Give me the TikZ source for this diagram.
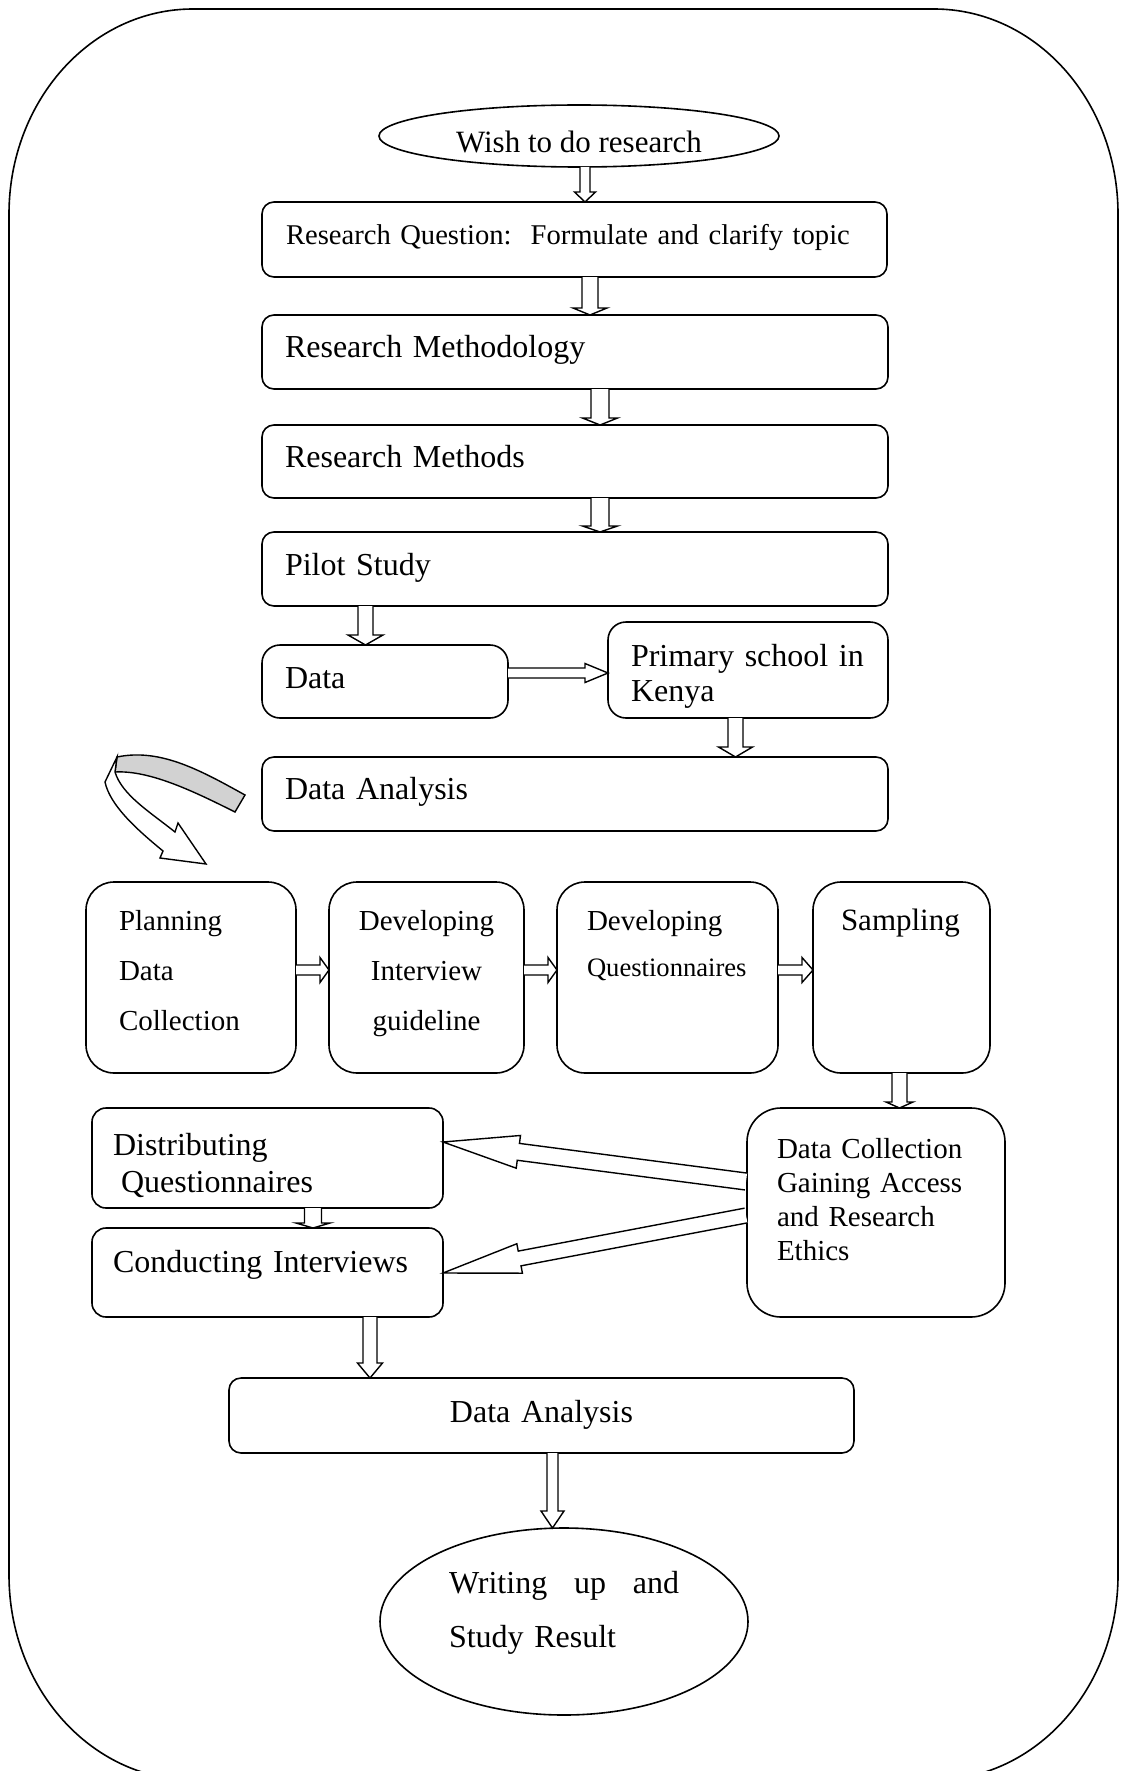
\documentclass[tikz,border=0pt]{standalone}
\usepackage{fontspec}
\setmainfont{Liberation Serif}
\usetikzlibrary{shapes.geometric,calc}
\tikzset{
block/.style={
    rectangle,
    draw,
    line width=0.8pt,
    rounded corners=6pt,
    anchor=north west,
    outer sep=0pt,
    inner xsep=11.5pt,
    inner ysep=0pt,
    align=left,
    font=\fontsize{16}{16}\selectfont
},
oval/.style={
    ellipse,
    draw,
    line width=0.8pt,
    inner sep=0pt,
    outer sep=0pt
},
stem width/.store in=\stemw,
barb width/.store in=\barbw,
barb length/.store in=\barbl,
hollow connector/.style={
    draw,
    fill=white,
    line width=0.7pt,
    line join=miter,
    stem width=2.5pt,
    barb width=6pt,
    barb length=5pt,
    to path={(\tikztostart) coordinate (tA) (\tikztotarget) coordinate (tB)
        ($(tA)!\stemw!90:(tB)$)
        -- ($(tB)!\barbl!(tA)!\stemw!90:(tB)$)
        -- ($(tB)!\barbl!(tA)!\barbw!90:(tB)$)
        -- (tB)
        -- ($(tB)!\barbl!(tA)!\barbw!-90:(tB)$)
        -- ($(tB)!\barbl!(tA)!\stemw!-90:(tB)$)
        -- ($(tA)!\stemw!-90:(tB)$)}
}
}
\begin{document}
\begin{tikzpicture}[x=0.5pt,y=-0.5pt]
\useasboundingbox (0,0) rectangle (1121,1771);
\clip (0,0) rectangle (1121,1771);

\draw[line width=0.8pt] (9,214) .. controls (9,101) and (91,9) .. (193,9) -- (934,9)
    .. controls (1036,9) and (1118,101) .. (1118,214) -- (1118,1575)
    .. controls (1118,1688) and (1036,1780) .. (934,1780) -- (193,1780)
    .. controls (91,1780) and (9,1688) .. (9,1575) -- cycle;

\node[oval, minimum width=200pt, minimum height=31pt, text height=16.5pt, text depth=0pt, font=\fontsize{15.5}{15.5}\selectfont] (wish) at (579,136) {Wish to do research};
\node[block, text width=288.5pt, inner xsep=12pt, text height=21.5pt, text depth=16pt, font=\fontsize{14.3}{16}\selectfont] (rq) at (262,202) {Research Question:\ \ Formulate and clarify topic};
\node[block, text width=290pt, text height=21pt, text depth=16pt] (rmeth) at (262,315) {Research Methodology};
\node[block, text width=290pt, text height=21pt, text depth=15.5pt] (rmethods) at (262,425) {Research Methods};
\node[block, text width=290pt, text height=21.5pt, text depth=15.5pt] (pilot) at (262,532) {Pilot Study};
\node[block, text width=100pt, rounded corners=9pt, text height=21.5pt, text depth=15pt] (data) at (262,645) {Data};
\node[block, text width=117pt, rounded corners=9pt, text height=22pt, text depth=26pt, font=\fontsize{16}{17.5}\selectfont] (primary) at (608,622) {Primary school in\\Kenya};
\node[block, text width=290pt, text height=21.25pt, text depth=15.75pt] (analysis) at (262,757) {Data Analysis};

\node[block, text width=72pt, inner xsep=16.5pt, rounded corners=14pt, text height=24pt, text depth=71.5pt, font=\fontsize{14.5}{25}\selectfont] (planning) at (86,882) {Planning\\Data\\Collection};
\node[block, text width=87.5pt, inner xsep=5pt, align=center, rounded corners=14pt, text height=24pt, text depth=71.5pt, font=\fontsize{14.5}{25}\selectfont] (interview) at (329,882) {Developing\\Interview\\guideline};
\node[block, text width=80.5pt, inner xsep=15pt, rounded corners=14pt, text height=24pt, text depth=71.5pt, font=\fontsize{14.5}{23}\selectfont] (questions) at (557,882) {Developing\\{\fontsize{13.3}{23}\selectfont Questionnaires}};
\node[block, text width=60.5pt, inner xsep=14pt, rounded corners=14pt, text height=24pt, text depth=71.5pt, font=\fontsize{15.5}{18}\selectfont] (sampling) at (813,882) {Sampling};

\node[block, text width=99pt, inner xsep=15pt, rounded corners=17pt, text height=25pt, text depth=79.5pt, font=\fontsize{14.5}{17}\selectfont] (collection) at (747,1108) {Data Collection\\Gaining Access\\and Research\\Ethics};
\node[block, text width=154.5pt, inner xsep=10.5pt, rounded corners=7pt, text height=23.5pt, text depth=26.5pt, font=\fontsize{16}{18.5}\selectfont] (distribute) at (92,1108) {Distributing\\\hspace*{4pt}Questionnaires};
\node[block, text width=154.5pt, inner xsep=10.5pt, rounded corners=7pt, text height=22pt, text depth=22.5pt] (conduct) at (92,1228) {Conducting Interviews};
\node[block, text width=292.5pt, inner xsep=10pt, align=center, text height=22pt, text depth=15.5pt] (analysis2) at (229,1378) {Data Analysis};
\node[oval, minimum width=184pt, minimum height=93.5pt, text width=115pt, align=left, text height=10pt, text depth=38.5pt, font=\fontsize{16}{27}\selectfont] (writing) at (564,1621.5) {Writing\hfill up\hfill and\\Study Result};

\draw[line width=0.7pt, fill=gray!35] (117,757) .. controls (160,748) and (200,770) .. (245,795)
    -- (235,812) .. controls (195,792) and (150,770) .. (115,772) -- cycle;
\draw[line width=0.7pt, fill=white, line join=miter] (117,757) -- (105,782)
    .. controls (110,805) and (135,828) .. (163,851) -- (160,858) -- (206,864) -- (178,823)
    -- (175,832) .. controls (150,812) and (122,795) .. (115,772) -- cycle;

\path ($(wish.south)+(6,0)$) edge[hollow connector, stem width=2.5pt, barb width=5.25pt, barb length=5pt] ($(rq.north)+(10.5,0)$);
\path ($(rq.south)+(15.5,0)$) edge[hollow connector, stem width=4pt, barb width=8.5pt, barb length=3.5pt] ($(rmeth.north)+(15,0)$);
\path ($(rmeth.south)+(25,0)$) edge[hollow connector, stem width=4.5pt, barb width=8.75pt, barb length=3.5pt] ($(rmethods.north)+(25,0)$);
\path ($(rmethods.south)+(25,0)$) edge[hollow connector, stem width=4.5pt, barb width=8.75pt, barb length=3pt] ($(pilot.north)+(25,0)$);
\path ($(data.north |- pilot.south)+(-19.5,0)$) edge[hollow connector, stem width=3.75pt, barb width=8.75pt, barb length=5pt] ($(data.north)+(-19.5,0)$);
\path ($(data.east)+(0,-8.5)$) edge[hollow connector, stem width=2.5pt, barb width=4.75pt, barb length=11.5pt] ($(primary.west)+(0,3)$);
\path ($(primary.south)+(-12.5,0)$) edge[hollow connector, stem width=3.75pt, barb width=8.5pt, barb length=5pt] ($(primary.south |- analysis.north)+(-12.5,0)$);
\path ($(planning.east)+(0,-7.5)$) edge[hollow connector, stem width=2.5pt, barb width=6.25pt, barb length=4.5pt] ($(interview.west)+(0,-7.5)$);
\path ($(interview.east)+(0,-7.5)$) edge[hollow connector, stem width=2.5pt, barb width=6.25pt, barb length=4.5pt] ($(questions.west)+(0,-7.5)$);
\path ($(questions.east)+(0,-7.5)$) edge[hollow connector, stem width=2.5pt, barb width=6.25pt, barb length=5.5pt] ($(sampling.west)+(0,-7.5)$);
\path ($(sampling.south)+(-2,0)$) edge[hollow connector, stem width=3.75pt, barb width=6.75pt, barb length=3pt] ($(sampling.south |- collection.north)+(-2,0)$);
\path ($(collection.west)+(-1,-31)$) edge[hollow connector, stem width=4.25pt, barb width=8.25pt, barb length=38pt] ($(distribute.east)+(0,-16)$);
\path ($(collection.west)+(-1,3)$) edge[hollow connector, stem width=3.75pt, barb width=7.5pt, barb length=39pt] ($(conduct.east)+(0,0.5)$);
\path ($(distribute.south)+(45.5,0)$) edge[hollow connector, stem width=4.25pt, barb width=8.5pt, barb length=2.5pt] ($(conduct.north)+(45.5,0)$);
\path ($(conduct.south)+(102.5,0)$) edge[hollow connector, stem width=3.5pt, barb width=6.25pt, barb length=7.5pt] ($(conduct.south |- analysis2.north)+(102.5,0)$);
\path ($(analysis2.south)+(11,0)$) edge[hollow connector, stem width=2.75pt, barb width=5.75pt, barb length=8.5pt] ($(writing.north)+(-11.5,0)$);

\end{tikzpicture}
\end{document}
